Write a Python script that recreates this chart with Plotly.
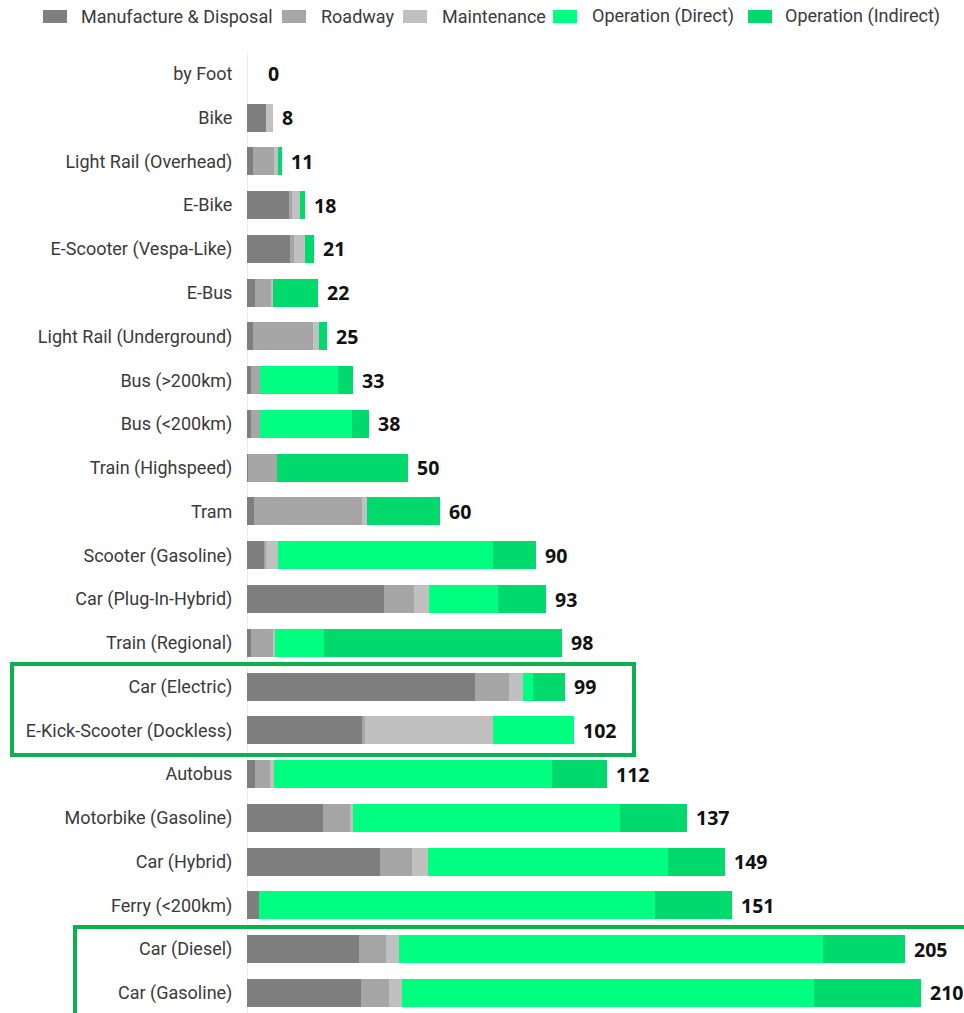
import plotly.graph_objects as go

# Greenhouse-gas emissions per passenger-km, broken down by life-cycle stage
categories = [
    "by Foot", "Bike", "Light Rail (Overhead)", "E-Bike", "E-Scooter (Vespa-Like)",
    "E-Bus", "Light Rail (Underground)", "Bus (>200km)", "Bus (<200km)",
    "Train (Highspeed)", "Tram", "Scooter (Gasoline)", "Car (Plug-In-Hybrid)",
    "Train (Regional)", "Car (Electric)", "E-Kick-Scooter (Dockless)", "Autobus",
    "Motorbike (Gasoline)", "Car (Hybrid)", "Ferry (<200km)", "Car (Diesel)",
    "Car (Gasoline)",
]
totals = [0, 8, 11, 18, 21, 22, 25, 33, 38, 50, 60, 90, 93, 98, 99, 102, 112, 137, 149, 151, 205, 210]

manufacture = [0, 6, 2, 13, 13.5, 2.4, 2, 1.3, 1.3, 0.4, 2.3, 5.2, 42.8, 1.3, 71, 35.8, 2.4, 23.8, 41.4, 3.7, 34.9, 35.5]
roadway = [0, 0, 6.5, 1, 1, 5.2, 18.5, 2.8, 2.6, 8.8, 33.5, 0.7, 9.2, 6.7, 10.6, 1, 4.9, 8.4, 9.9, 0, 8.3, 8.7]
maintenance = [0, 2, 1.2, 2.5, 3.5, 0.5, 2, 0, 0, 0, 1.5, 3.6, 4.8, 0.8, 4.3, 39.8, 1.1, 0.9, 5, 0, 4.2, 4]
op_direct = [0, 0, 0, 0, 0, 0, 0, 24.2, 28.8, 0, 0, 67.2, 21.3, 15.1, 3.2, 25.4, 86.7, 83, 74.8, 123.5, 132.1, 128.5]
op_indirect = [0, 0, 1.3, 1.5, 3, 13.9, 2.5, 4.7, 5.3, 40.8, 22.7, 13.3, 14.9, 74.1, 9.9, 0, 16.9, 20.9, 17.9, 23.8, 25.5, 33.3]

series_names = ["Manufacture & Disposal", "Roadway", "Maintenance", "Operation (Direct)", "Operation (Indirect)"]
series_values = [manufacture, roadway, maintenance, op_direct, op_indirect]
series_colors = ["#7f7f7f", "#a6a6a6", "#c0c0c0", "#00ff80", "#00d96c"]

W, H = 964, 1013
M_L, M_T = 247, 52
PLOT_W, PLOT_H = W - M_L, H - M_T
PX_PER_UNIT = 3.21

fig = go.Figure()
for name, vals, col in zip(series_names, series_values, series_colors):
    fig.add_trace(go.Bar(
        y=categories, x=vals, name=name, orientation="h",
        marker=dict(color=col, line=dict(width=0)),
        showlegend=False, hoverinfo="x+name",
    ))

# total labels at the end of each bar
annotations = []
for cat, tot in zip(categories, totals):
    annotations.append(dict(
        x=tot, y=cat, xref="x", yref="y", text=str(tot), showarrow=False,
        xanchor="left", yanchor="middle", xshift=19 if tot == 0 else 7,
        font=dict(family="Open Sans", size=19.5, color="#111111", weight="bold"),
    ))


def px_to_paper(px, py):
    return (px - M_L) / PLOT_W, (H - py) / PLOT_H


# legend drawn as swatches and text along the top
legend_items = [(43, 79), (282, 319), (403, 440), (553, 590), (748, 783)]
shapes = []
for (sx, tx), name, col in zip(legend_items, series_names, series_colors):
    x0, y0 = px_to_paper(sx, 23)
    x1, y1 = px_to_paper(sx + 24, 10)
    shapes.append(dict(type="rect", xref="paper", yref="paper", x0=x0, y0=y0, x1=x1, y1=y1,
                       fillcolor=col, line=dict(width=0), layer="above"))
    ax, ay = px_to_paper(tx, 16.5)
    annotations.append(dict(x=ax, y=ay, xref="paper", yref="paper", text=name, showarrow=False,
                            xanchor="left", yanchor="middle",
                            font=dict(family="Roboto", size=18, color="#3a3a3a")))

# highlight frames
for (bx0, by0, bx1, by1) in [(12, 664, 634, 755), (75, 927, 970, 1020)]:
    x0, y0 = px_to_paper(bx0, by1)
    x1, y1 = px_to_paper(bx1, by0)
    shapes.append(dict(type="rect", xref="paper", yref="paper", x0=x0, y0=y0, x1=x1, y1=y1,
                       line=dict(color="#0bb14f", width=4), fillcolor="rgba(0,0,0,0)", layer="above"))

fig.update_layout(
    width=W, height=H,
    margin=dict(l=M_L, r=0, t=M_T, b=0, pad=0),
    paper_bgcolor="white", plot_bgcolor="white",
    barmode="stack", bargap=0.36,
    font=dict(family="Roboto", size=18, color="#3a3a3a"),
    xaxis=dict(range=[0, PLOT_W / PX_PER_UNIT], showgrid=False, showticklabels=False,
               zeroline=True, zerolinecolor="#ececec", zerolinewidth=1, fixedrange=True),
    yaxis=dict(categoryorder="array", categoryarray=categories,
               range=[-0.5 + PLOT_H / 43.76, -0.5], showgrid=False, zeroline=False,
               ticks="outside", ticklen=10, tickcolor="rgba(0,0,0,0)",
               tickfont=dict(family="Roboto", size=18, color="#3a3a3a")),
    annotations=annotations, shapes=shapes, showlegend=False,
)

fig.write_html("out.html")
